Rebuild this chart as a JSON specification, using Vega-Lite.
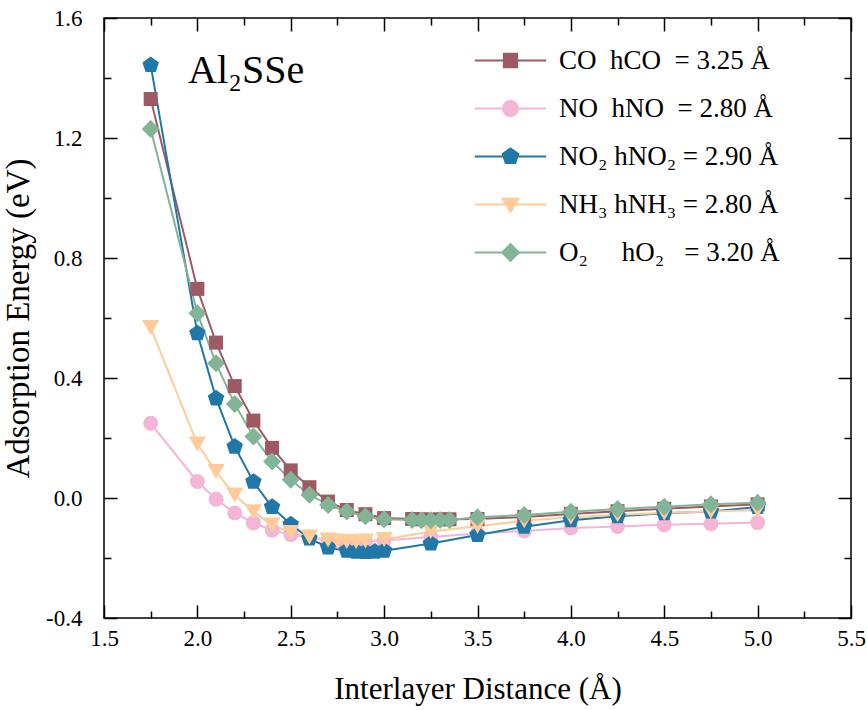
{
  "$schema": "https://vega.github.io/schema/vega-lite/v6.json",
  "width": 747,
  "height": 600,
  "autosize": "none",
  "padding": {"left": 104, "top": 18, "right": 16, "bottom": 92},
  "background": "white",
  "config": {
    "view": {"stroke": "black", "strokeWidth": 1.5},
    "axis": {"labelFont": "Liberation Serif", "labelFontSize": 23, "labelColor": "black", "titleFont": "Liberation Serif", "titleFontSize": 31, "titleFontWeight": "normal", "titleColor": "black", "ticks": true, "tickColor": "black", "tickWidth": 1.5, "tickOpacity": 1, "domain": false, "grid": false, "labelFlush": false, "labelOverlap": false},
    "axisBottom": {"tickSize": -13, "labelPadding": 22},
    "axisLeft": {"tickSize": -13, "labelPadding": 35},
    "axisTop": {"tickSize": -13},
    "axisRight": {"tickSize": -13},
    "style": {"major": {"tickSize": -13}, "minor": {"tickSize": -7}},
    "legend": {"labelFont": "Liberation Serif", "labelFontSize": 27, "labelColor": "black", "labelLimit": 500}
  },
  "data": {"values": [
    {"gas": "CO", "x": 1.75, "y": 1.33}, {"gas": "CO", "x": 2.0, "y": 0.697}, {"gas": "CO", "x": 2.1, "y": 0.518}, {"gas": "CO", "x": 2.2, "y": 0.373}, {"gas": "CO", "x": 2.3, "y": 0.258}, {"gas": "CO", "x": 2.4, "y": 0.167}, {"gas": "CO", "x": 2.5, "y": 0.092}, {"gas": "CO", "x": 2.6, "y": 0.036}, {"gas": "CO", "x": 2.7, "y": -0.012}, {"gas": "CO", "x": 2.8, "y": -0.04}, {"gas": "CO", "x": 2.9, "y": -0.054}, {"gas": "CO", "x": 3.0, "y": -0.067}, {"gas": "CO", "x": 3.15, "y": -0.07}, {"gas": "CO", "x": 3.2, "y": -0.071}, {"gas": "CO", "x": 3.25, "y": -0.072}, {"gas": "CO", "x": 3.3, "y": -0.071}, {"gas": "CO", "x": 3.35, "y": -0.071}, {"gas": "CO", "x": 3.5, "y": -0.07}, {"gas": "CO", "x": 3.75, "y": -0.063}, {"gas": "CO", "x": 4.0, "y": -0.053}, {"gas": "CO", "x": 4.25, "y": -0.044}, {"gas": "CO", "x": 4.5, "y": -0.036}, {"gas": "CO", "x": 4.75, "y": -0.028}, {"gas": "CO", "x": 5.0, "y": -0.021},
    {"gas": "NO", "x": 1.75, "y": 0.249}, {"gas": "NO", "x": 2.0, "y": 0.055}, {"gas": "NO", "x": 2.1, "y": -0.004}, {"gas": "NO", "x": 2.2, "y": -0.05}, {"gas": "NO", "x": 2.3, "y": -0.083}, {"gas": "NO", "x": 2.4, "y": -0.107}, {"gas": "NO", "x": 2.5, "y": -0.122}, {"gas": "NO", "x": 2.6, "y": -0.133}, {"gas": "NO", "x": 2.7, "y": -0.14}, {"gas": "NO", "x": 2.75, "y": -0.143}, {"gas": "NO", "x": 2.8, "y": -0.145}, {"gas": "NO", "x": 2.85, "y": -0.145}, {"gas": "NO", "x": 2.9, "y": -0.144}, {"gas": "NO", "x": 3.0, "y": -0.142}, {"gas": "NO", "x": 3.25, "y": -0.13}, {"gas": "NO", "x": 3.5, "y": -0.118}, {"gas": "NO", "x": 3.75, "y": -0.11}, {"gas": "NO", "x": 4.0, "y": -0.1}, {"gas": "NO", "x": 4.25, "y": -0.095}, {"gas": "NO", "x": 4.5, "y": -0.089}, {"gas": "NO", "x": 4.75, "y": -0.086}, {"gas": "NO", "x": 5.0, "y": -0.082},
    {"gas": "NO2", "x": 1.75, "y": 1.443}, {"gas": "NO2", "x": 2.0, "y": 0.549}, {"gas": "NO2", "x": 2.1, "y": 0.332}, {"gas": "NO2", "x": 2.2, "y": 0.171}, {"gas": "NO2", "x": 2.3, "y": 0.054}, {"gas": "NO2", "x": 2.4, "y": -0.03}, {"gas": "NO2", "x": 2.5, "y": -0.088}, {"gas": "NO2", "x": 2.6, "y": -0.135}, {"gas": "NO2", "x": 2.7, "y": -0.165}, {"gas": "NO2", "x": 2.8, "y": -0.176}, {"gas": "NO2", "x": 2.85, "y": -0.179}, {"gas": "NO2", "x": 2.9, "y": -0.18}, {"gas": "NO2", "x": 2.95, "y": -0.179}, {"gas": "NO2", "x": 3.0, "y": -0.176}, {"gas": "NO2", "x": 3.25, "y": -0.152}, {"gas": "NO2", "x": 3.5, "y": -0.123}, {"gas": "NO2", "x": 3.75, "y": -0.096}, {"gas": "NO2", "x": 4.0, "y": -0.074}, {"gas": "NO2", "x": 4.25, "y": -0.061}, {"gas": "NO2", "x": 4.5, "y": -0.051}, {"gas": "NO2", "x": 4.75, "y": -0.045}, {"gas": "NO2", "x": 5.0, "y": -0.03},
    {"gas": "NH3", "x": 1.75, "y": 0.568}, {"gas": "NH3", "x": 2.0, "y": 0.18}, {"gas": "NH3", "x": 2.1, "y": 0.088}, {"gas": "NH3", "x": 2.2, "y": 0.01}, {"gas": "NH3", "x": 2.3, "y": -0.046}, {"gas": "NH3", "x": 2.4, "y": -0.09}, {"gas": "NH3", "x": 2.5, "y": -0.115}, {"gas": "NH3", "x": 2.6, "y": -0.13}, {"gas": "NH3", "x": 2.7, "y": -0.14}, {"gas": "NH3", "x": 2.75, "y": -0.143}, {"gas": "NH3", "x": 2.8, "y": -0.145}, {"gas": "NH3", "x": 2.85, "y": -0.145}, {"gas": "NH3", "x": 2.9, "y": -0.143}, {"gas": "NH3", "x": 3.0, "y": -0.138}, {"gas": "NH3", "x": 3.25, "y": -0.112}, {"gas": "NH3", "x": 3.5, "y": -0.094}, {"gas": "NH3", "x": 3.75, "y": -0.076}, {"gas": "NH3", "x": 4.0, "y": -0.064}, {"gas": "NH3", "x": 4.25, "y": -0.056}, {"gas": "NH3", "x": 4.5, "y": -0.05}, {"gas": "NH3", "x": 4.75, "y": -0.045}, {"gas": "NH3", "x": 5.0, "y": -0.04},
    {"gas": "O2", "x": 1.75, "y": 1.23}, {"gas": "O2", "x": 2.0, "y": 0.616}, {"gas": "O2", "x": 2.1, "y": 0.449}, {"gas": "O2", "x": 2.2, "y": 0.313}, {"gas": "O2", "x": 2.3, "y": 0.205}, {"gas": "O2", "x": 2.4, "y": 0.122}, {"gas": "O2", "x": 2.5, "y": 0.061}, {"gas": "O2", "x": 2.6, "y": 0.011}, {"gas": "O2", "x": 2.7, "y": -0.023}, {"gas": "O2", "x": 2.8, "y": -0.045}, {"gas": "O2", "x": 2.9, "y": -0.061}, {"gas": "O2", "x": 3.0, "y": -0.071}, {"gas": "O2", "x": 3.15, "y": -0.073}, {"gas": "O2", "x": 3.2, "y": -0.074}, {"gas": "O2", "x": 3.25, "y": -0.074}, {"gas": "O2", "x": 3.3, "y": -0.073}, {"gas": "O2", "x": 3.35, "y": -0.073}, {"gas": "O2", "x": 3.5, "y": -0.064}, {"gas": "O2", "x": 3.75, "y": -0.057}, {"gas": "O2", "x": 4.0, "y": -0.046}, {"gas": "O2", "x": 4.25, "y": -0.037}, {"gas": "O2", "x": 4.5, "y": -0.029}, {"gas": "O2", "x": 4.75, "y": -0.021}, {"gas": "O2", "x": 5.0, "y": -0.016}
  ]},
  "resolve": {"axis": {"x": "independent", "y": "independent"}},
  "layer": [
    {
      "transform": [{"filter": {"field": "gas", "equal": "CO"}}],
      "mark": {"type": "line", "strokeWidth": 2, "color": "#9E5A63"},
      "encoding": {
        "x": {"field": "x", "type": "quantitative", "scale": {"domain": [1.5, 5.5], "nice": false, "zero": false},
          "axis": {"orient": "bottom", "style": "major", "values": [1.5, 2.0, 2.5, 3.0, 3.5, 4.0, 4.5, 5.0, 5.5], "format": ".1f", "ticks": true,
            "tickSize": -13, "labelPadding": 22, "title": "Interlayer Distance (Å)", "titlePadding": 24}},
        "y": {"field": "y", "type": "quantitative", "scale": {"domain": [-0.4, 1.6], "nice": false, "zero": false},
          "axis": {"orient": "left", "style": "major", "values": [-0.4, 0, 0.4, 0.8, 1.2, 1.6], "ticks": true,
            "labelExpr": "replace(format(datum.value,'.1f'),'\u2212','-')", "titleFontSize": 33,
            "tickSize": -13, "labelPadding": 35, "title": "Adsorption Energy (eV)", "titlePadding": 10}}
      }
    },
    {
      "transform": [{"filter": {"field": "gas", "equal": "NO"}}],
      "mark": {"type": "line", "strokeWidth": 2, "color": "#F4B5D6"},
      "encoding": {
        "x": {"field": "x", "type": "quantitative", "axis": {"orient": "bottom", "style": "minor", "values": [1.75, 2.25, 2.75, 3.25, 3.75, 4.25, 4.75, 5.25], "labels": false, "title": null, "ticks": true, "tickSize": -7}},
        "y": {"field": "y", "type": "quantitative", "axis": {"orient": "left", "style": "minor", "values": [-0.2, 0.2, 0.6, 1.0, 1.4], "labels": false, "title": null, "ticks": true, "tickSize": -7}}
      }
    },
    {
      "transform": [{"filter": {"field": "gas", "equal": "NO2"}}],
      "mark": {"type": "line", "strokeWidth": 2, "color": "#2078A8"},
      "encoding": {
        "x": {"field": "x", "type": "quantitative", "axis": {"orient": "top", "style": "major", "values": [1.5, 2.0, 2.5, 3.0, 3.5, 4.0, 4.5, 5.0, 5.5], "labels": false, "title": null, "ticks": true, "tickSize": -13}},
        "y": {"field": "y", "type": "quantitative", "axis": {"orient": "right", "style": "major", "values": [-0.4, 0, 0.4, 0.8, 1.2, 1.6], "labels": false, "title": null, "ticks": true, "tickSize": -13}}
      }
    },
    {
      "transform": [{"filter": {"field": "gas", "equal": "NH3"}}],
      "mark": {"type": "line", "strokeWidth": 2, "color": "#FFCC99"},
      "encoding": {
        "x": {"field": "x", "type": "quantitative", "axis": {"orient": "top", "style": "minor", "values": [1.75, 2.25, 2.75, 3.25, 3.75, 4.25, 4.75, 5.25], "labels": false, "title": null, "ticks": true, "tickSize": -7}},
        "y": {"field": "y", "type": "quantitative", "axis": {"orient": "right", "style": "minor", "values": [-0.2, 0.2, 0.6, 1.0, 1.4], "labels": false, "title": null, "ticks": true, "tickSize": -7}}
      }
    },
    {
      "transform": [{"filter": {"field": "gas", "equal": "O2"}}],
      "mark": {"type": "line", "strokeWidth": 2, "color": "#82B497"},
      "encoding": {
        "x": {"field": "x", "type": "quantitative", "axis": null},
        "y": {"field": "y", "type": "quantitative", "axis": null}
      }
    },
    {
      "transform": [{"filter": {"field": "gas", "equal": "CO"}}],
      "mark": {"type": "point", "shape": "square", "filled": true, "size": 196, "opacity": 1, "color": "#9E5A63"},
      "encoding": {
        "x": {"field": "x", "type": "quantitative", "axis": null},
        "y": {"field": "y", "type": "quantitative", "axis": null}
      }
    },
    {
      "transform": [{"filter": {"field": "gas", "equal": "NO"}}],
      "mark": {"type": "point", "shape": "circle", "filled": true, "size": 225, "opacity": 1, "color": "#F4B5D6"},
      "encoding": {
        "x": {"field": "x", "type": "quantitative", "axis": null},
        "y": {"field": "y", "type": "quantitative", "axis": null}
      }
    },
    {
      "transform": [{"filter": {"field": "gas", "equal": "NO2"}}],
      "mark": {"type": "point", "shape": "M0,-1L0.951,-0.309L0.588,0.809L-0.588,0.809L-0.951,-0.309Z", "filled": true, "size": 300, "opacity": 1, "color": "#2078A8"},
      "encoding": {
        "x": {"field": "x", "type": "quantitative", "axis": null},
        "y": {"field": "y", "type": "quantitative", "axis": null}
      }
    },
    {
      "transform": [{"filter": {"field": "gas", "equal": "NH3"}}],
      "mark": {"type": "point", "shape": "triangle-down", "filled": true, "size": 300, "opacity": 1, "color": "#FFCC99"},
      "encoding": {
        "x": {"field": "x", "type": "quantitative", "axis": null},
        "y": {"field": "y", "type": "quantitative", "axis": null}
      }
    },
    {
      "transform": [{"filter": {"field": "gas", "equal": "O2"}}],
      "mark": {"type": "point", "shape": "diamond", "filled": true, "size": 324, "opacity": 1, "color": "#82B497"},
      "encoding": {
        "x": {"field": "x", "type": "quantitative", "axis": null},
        "y": {"field": "y", "type": "quantitative", "axis": null}
      }
    },
    {
      "mark": {"type": "point", "filled": true, "opacity": 0},
      "encoding": {
        "x": {"field": "x", "type": "quantitative", "axis": null},
        "y": {"field": "y", "type": "quantitative", "axis": null},
        "color": {"field": "gas", "type": "nominal",
          "scale": {"domain": ["CO", "NO", "NO2", "NH3", "O2"], "range": ["#9E5A63", "#F4B5D6", "#2078A8", "#FFCC99", "#82B497"]},
          "legend": {"title": null, "orient": "none", "legendX": 393, "legendY": 29, "symbolSize": 289, "symbolOpacity": 1, "symbolStrokeWidth": 0, "labelOffset": 35, "rowPadding": 20,
            "labelExpr": "datum.value == 'CO' ? 'CO\u00a0\u00a0hCO\u00a0\u00a0= 3.25 Å' : datum.value == 'NO' ? 'NO\u00a0\u00a0hNO\u00a0\u00a0= 2.80 Å' : datum.value == 'NO2' ? 'NO₂ hNO₂ = 2.90 Å' : datum.value == 'NH3' ? 'NH₃ hNH₃ = 2.80 Å' : 'O₂\u00a0\u00a0\u00a0\u00a0\u00a0hO₂\u00a0\u00a0\u00a0= 3.20 Å'"}},
        "shape": {"field": "gas", "type": "nominal",
          "scale": {"domain": ["CO", "NO", "NO2", "NH3", "O2"], "range": [
            "M-4.2,-0.12L4.2,-0.12L4.2,0.12L-4.2,0.12Z M-0.9,-0.9L0.9,-0.9L0.9,0.9L-0.9,0.9Z",
            "M-4.2,-0.12L4.2,-0.12L4.2,0.12L-4.2,0.12Z M-1,0A1,1 0 1,1 1,0A1,1 0 1,1 -1,0Z",
            "M-4.2,-0.12L4.2,-0.12L4.2,0.12L-4.2,0.12Z M0,-1.1L1.046,-0.34L0.647,0.89L-0.647,0.89L-1.046,-0.34Z",
            "M-4.2,-0.12L4.2,-0.12L4.2,0.12L-4.2,0.12Z M-1.15,-0.8L1.15,-0.8L0,1.1Z",
            "M-4.2,-0.12L4.2,-0.12L4.2,0.12L-4.2,0.12Z M0,-1.15L1.15,0L0,1.15L-1.15,0Z"
          ]},
          "legend": {"title": null, "orient": "none", "legendX": 393, "legendY": 29, "symbolSize": 289, "symbolOpacity": 1, "symbolStrokeWidth": 0, "labelOffset": 35, "rowPadding": 20,
            "labelExpr": "datum.value == 'CO' ? 'CO\u00a0\u00a0hCO\u00a0\u00a0= 3.25 Å' : datum.value == 'NO' ? 'NO\u00a0\u00a0hNO\u00a0\u00a0= 2.80 Å' : datum.value == 'NO2' ? 'NO₂ hNO₂ = 2.90 Å' : datum.value == 'NH3' ? 'NH₃ hNH₃ = 2.80 Å' : 'O₂\u00a0\u00a0\u00a0\u00a0\u00a0hO₂\u00a0\u00a0\u00a0= 3.20 Å'"}}
      }
    },
    {
      "data": {"values": [{"label": "Al₂SSe"}]},
      "mark": {"type": "text", "font": "Liberation Serif", "fontSize": 40, "align": "left", "baseline": "alphabetic", "color": "black"},
      "encoding": {
        "x": {"datum": 1.95, "type": "quantitative", "axis": null},
        "y": {"datum": 1.383, "type": "quantitative", "axis": null},
        "text": {"field": "label"}
      }
    }
  ]
}
